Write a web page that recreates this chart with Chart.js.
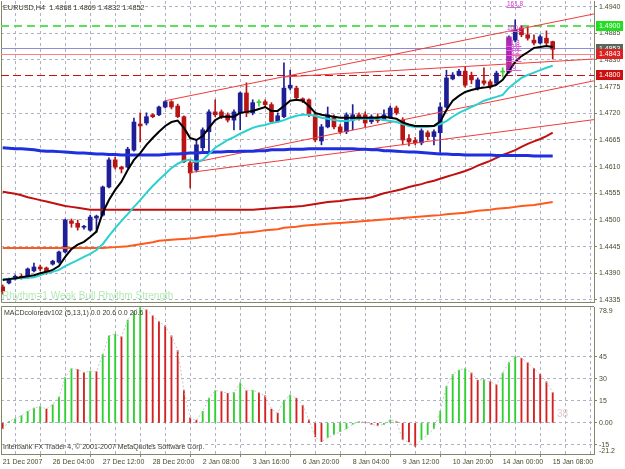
<!DOCTYPE html>
<html><head><meta charset="utf-8"><title>EURUSD H4</title>
<script src="https://cdn.jsdelivr.net/npm/chart.js@4.4.1/dist/chart.umd.min.js"></script>
<style>
html,body{margin:0;padding:0;background:#fff;width:625px;height:469px;overflow:hidden}
#wrap{position:relative;width:625px;height:469px;background:#fff}
canvas{position:absolute;left:0}
#c1{top:0}
#c2{top:304px}
</style></head><body>
<div id="wrap"><canvas id="c1" width="625" height="303"></canvas><canvas id="c2" width="625" height="165"></canvas></div>
<script>
// ---------- data ----------
const dateLabels = ['21 Dec 2007','26 Dec 04:00','27 Dec 12:00','28 Dec 20:00','2 Jan 08:00','3 Jan 16:00','6 Jan 20:00','8 Jan 04:00','9 Jan 12:00','10 Jan 20:00','14 Jan 00:00','15 Jan 08:00'];
const priceTicks = [1.4940,1.4885,1.4830,1.4775,1.4720,1.4665,1.4610,1.4555,1.4500,1.4445,1.4390,1.4335];
const macdTicks = [45,30,15,0,-15];

const open = [
1.4362,1.4370,1.4378,1.4384,1.4382,1.4395,1.4403,1.4401,1.4409,1.4413,
1.4434,1.4498,1.4493,1.4485,1.4479,1.4504,1.4510,1.4568,1.4624,1.4609,
1.4609,1.4644,1.4698,1.4700,1.4717,1.4717,1.4733,1.4744,1.4735,1.4713,
1.4618,1.4603,1.4649,1.4682,1.4723,1.4723,1.4717,1.4706,1.4721,1.4762,
1.4721,1.4742,1.4744,1.4738,1.4703,1.4713,1.4772,1.4772,1.4750,1.4748,
1.4717,1.4663,1.4692,1.4711,1.4692,1.4682,1.4706,1.4717,1.4717,1.4703,
1.4713,1.4706,1.4711,1.4731,1.4706,1.4668,1.4664,1.4659,1.4680,1.4672,
1.4680,1.4733,1.4791,1.4799,1.4807,1.4797,1.4772,1.4787,1.4785,1.4782,
1.4805,1.4805,1.4871,1.4896,1.4882,1.4871,1.4865,1.4875,1.4868];
const high = [
1.4366,1.4380,1.4387,1.4388,1.4401,1.4411,1.4407,1.4403,1.4417,1.4436,
1.4502,1.4502,1.4500,1.4489,1.4510,1.4510,1.4570,1.4628,1.4630,1.4611,
1.4650,1.4710,1.4721,1.4721,1.4719,1.4735,1.4746,1.4746,1.4739,1.4715,
1.4622,1.4665,1.4690,1.4727,1.4748,1.4727,1.4721,1.4727,1.4764,1.4783,
1.4748,1.4748,1.4748,1.4742,1.4721,1.4824,1.4809,1.4776,1.4752,1.4750,
1.4721,1.4697,1.4733,1.4717,1.4697,1.4721,1.4738,1.4721,1.4723,1.4717,
1.4719,1.4727,1.4735,1.4735,1.4711,1.4676,1.4670,1.4688,1.4684,1.4686,
1.4742,1.4809,1.4804,1.4811,1.4816,1.4805,1.4793,1.4814,1.4789,1.4807,
1.4814,1.4880,1.4913,1.4900,1.4898,1.4882,1.4882,1.4890,1.4869];
const low = [
1.4347,1.4368,1.4376,1.4378,1.4380,1.4393,1.4395,1.4388,1.4407,1.4411,
1.4432,1.4485,1.4479,1.4481,1.4477,1.4475,1.4508,1.4566,1.4605,1.4597,
1.4607,1.4642,1.4661,1.4696,1.4711,1.4715,1.4731,1.4729,1.4711,1.4618,
1.4566,1.4599,1.4640,1.4638,1.4713,1.4709,1.4702,1.4686,1.4686,1.4713,
1.4717,1.4735,1.4733,1.4699,1.4701,1.4711,1.4768,1.4748,1.4742,1.4713,
1.4661,1.4655,1.4690,1.4688,1.4678,1.4678,1.4686,1.4706,1.4692,1.4699,
1.4701,1.4705,1.4709,1.4717,1.4655,1.4653,1.4655,1.4655,1.4665,1.4655,
1.4639,1.4731,1.4789,1.4797,1.4774,1.4781,1.4768,1.4778,1.4770,1.4778,
1.4795,1.4803,1.4867,1.4878,1.4871,1.4861,1.4863,1.4861,1.4832];
const close = [
1.4352,1.4378,1.4384,1.4380,1.4399,1.4403,1.4399,1.4391,1.4415,1.4434,
1.4500,1.4493,1.4485,1.4487,1.4506,1.4508,1.4568,1.4624,1.4609,1.4605,
1.4646,1.4702,1.4694,1.4713,1.4713,1.4733,1.4744,1.4733,1.4713,1.4620,
1.4597,1.4655,1.4686,1.4723,1.4717,1.4713,1.4706,1.4723,1.4762,1.4721,
1.4742,1.4742,1.4738,1.4703,1.4715,1.4772,1.4778,1.4752,1.4746,1.4717,
1.4665,1.4692,1.4717,1.4692,1.4682,1.4717,1.4717,1.4713,1.4700,1.4713,
1.4705,1.4717,1.4731,1.4721,1.4665,1.4661,1.4659,1.4684,1.4672,1.4682,
1.4733,1.4793,1.4799,1.4807,1.4778,1.4789,1.4789,1.4782,1.4774,1.4803,
1.4805,1.4875,1.4892,1.4882,1.4875,1.4865,1.4878,1.4865,1.4852];

const maBlack = [
1.4376,1.4378,1.4380,1.4382,1.4384,1.4386,1.4390,1.4393,1.4397,1.4405,
1.4424,1.4440,1.4449,1.4455,1.4465,1.4476,1.4515,1.4541,1.4562,1.4579,
1.4603,1.4624,1.4638,1.4655,1.4669,1.4682,1.4694,1.4702,1.4705,1.4690,
1.4669,1.4665,1.4673,1.4690,1.4706,1.4713,1.4713,1.4713,1.4721,1.4723,
1.4725,1.4729,1.4733,1.4725,1.4725,1.4735,1.4746,1.4748,1.4746,1.4735,
1.4721,1.4717,1.4715,1.4713,1.4711,1.4711,1.4711,1.4711,1.4711,1.4711,
1.4711,1.4713,1.4711,1.4709,1.4701,1.4697,1.4694,1.4694,1.4694,1.4694,
1.4703,1.4727,1.4746,1.4756,1.4764,1.4768,1.4771,1.4773,1.4775,1.4779,
1.4789,1.4807,1.4826,1.4838,1.4846,1.4855,1.4857,1.4859,1.4857];
const maCyan = [
1.4378,1.4378,1.4380,1.4380,1.4381,1.4382,1.4386,1.4391,1.4393,1.4397,
1.4405,1.4411,1.4417,1.4424,1.4430,1.4438,1.4450,1.4467,1.4483,1.4498,
1.4512,1.4527,1.4541,1.4556,1.4570,1.4583,1.4595,1.4607,1.4616,1.4622,
1.4624,1.4620,1.4624,1.4636,1.4649,1.4657,1.4665,1.4671,1.4678,1.4684,
1.4690,1.4694,1.4696,1.4700,1.4702,1.4706,1.4711,1.4715,1.4717,1.4717,
1.4715,1.4711,1.4709,1.4706,1.4704,1.4704,1.4706,1.4709,1.4709,1.4709,
1.4709,1.4706,1.4704,1.4702,1.4698,1.4694,1.4692,1.4692,1.4692,1.4694,
1.4698,1.4704,1.4713,1.4721,1.4727,1.4733,1.4739,1.4746,1.4750,1.4754,
1.4758,1.4773,1.4783,1.4793,1.4799,1.4804,1.4809,1.4814,1.4818];
const maBlue = [
1.4649,1.4648,1.4647,1.4647,1.4646,1.4645,1.4643,1.4642,1.4642,1.4641,
1.4640,1.4639,1.4638,1.4638,1.4637,1.4636,1.4636,1.4635,1.4635,1.4634,
1.4634,1.4634,1.4634,1.4634,1.4634,1.4634,1.4635,1.4636,1.4636,1.4637,
1.4638,1.4638,1.4639,1.4639,1.4640,1.4640,1.4641,1.4641,1.4642,1.4642,
1.4642,1.4643,1.4643,1.4645,1.4645,1.4645,1.4646,1.4646,1.4646,1.4647,
1.4647,1.4647,1.4647,1.4647,1.4647,1.4647,1.4647,1.4646,1.4646,1.4645,
1.4645,1.4643,1.4643,1.4642,1.4641,1.4640,1.4640,1.4639,1.4638,1.4637,
1.4636,1.4636,1.4635,1.4635,1.4634,1.4634,1.4634,1.4634,1.4634,1.4633,
1.4633,1.4633,1.4633,1.4633,1.4633,1.4632,1.4632,1.4632,1.4632];
const maRed = [
1.4558,1.4556,1.4554,1.4551,1.4547,1.4544,1.4541,1.4538,1.4535,1.4532,
1.4529,1.4527,1.4525,1.4523,1.4521,1.4521,1.4521,1.4521,1.4521,1.4521,
1.4521,1.4521,1.4521,1.4521,1.4521,1.4521,1.4521,1.4521,1.4521,1.4521,
1.4521,1.4521,1.4521,1.4521,1.4521,1.4521,1.4521,1.4521,1.4521,1.4521,
1.4521,1.4522,1.4523,1.4524,1.4525,1.4526,1.4527,1.4528,1.4529,1.4531,
1.4533,1.4535,1.4537,1.4538,1.4539,1.4541,1.4543,1.4544,1.4545,1.4547,
1.4551,1.4555,1.4558,1.4561,1.4564,1.4568,1.4571,1.4574,1.4578,1.4581,
1.4585,1.4589,1.4593,1.4597,1.4601,1.4606,1.4612,1.4617,1.4622,1.4628,
1.4634,1.4639,1.4644,1.4651,1.4657,1.4662,1.4667,1.4673,1.4680];
const maOrange = [
1.4442,1.4442,1.4442,1.4442,1.4442,1.4442,1.4442,1.4442,1.4442,1.4442,
1.4442,1.4442,1.4442,1.4442,1.4442,1.4442,1.4442,1.4443,1.4444,1.4445,
1.4446,1.4448,1.4450,1.4452,1.4454,1.4457,1.4458,1.4459,1.4460,1.4461,
1.4462,1.4463,1.4465,1.4466,1.4467,1.4469,1.4470,1.4471,1.4473,1.4474,
1.4475,1.4477,1.4479,1.4480,1.4481,1.4484,1.4485,1.4486,1.4488,1.4489,
1.4490,1.4491,1.4492,1.4493,1.4494,1.4495,1.4496,1.4497,1.4498,1.4499,
1.4500,1.4501,1.4502,1.4503,1.4504,1.4505,1.4506,1.4507,1.4508,1.4509,
1.4510,1.4512,1.4513,1.4514,1.4515,1.4517,1.4519,1.4520,1.4521,1.4523,
1.4524,1.4525,1.4527,1.4529,1.4530,1.4531,1.4533,1.4535,1.4537];

const macd = [
-4,1.1,2.9,4.9,7.8,10,11.2,9.4,12.3,17.5,
30.9,36.9,36.3,34.3,35.2,34.9,46.6,59.3,60.4,58.7,
70,76,78.9,77,73,69,66,59.3,49.3,22.4,
3.4,1.8,7.8,16.8,21.9,21.5,20.1,20.6,27.3,21.9,
22.2,20.6,18.4,9.4,6.7,15.2,19,16.8,12,2,
-9.5,-12.8,-10,-8,-6,-4,-1,1,0.5,-1,
-2,-1,2,1,-11.5,-13,-16,-11.5,-8,-4,
8,25,33,36,37,34,29,29.5,28,26,
34,41,45,44,41,37,33,28,20.6];

// trend lines: start bar, start price, end bar, end price
const trendStartBar = [26, 45, 30, 30];
const trendStartPrice = [1.4746, 1.4795, 1.4598, 1.4617];
const trendEndBar = [94.6, 94.6, 94.6, 94.6];
const trendEndPrice = [1.4925, 1.4832, 1.4707, 1.4787];

// horizontal objects
const hLineValues = [1.4900, 1.4855, 1.4843, 1.4800];
const axisBoxValues = [1.4900, 1.4853, 1.4843, 1.4800];
const axisBoxText = ['1.4900', '1.4853', '1.4843', '1.4800'];

// fibonacci
const fibLevels = [0, 23.6, 38.2, 50, 61.8, 100, 161.8];
const fibLabels = ['0.0', '23.6', '38.2', '50.0', '61.8', '100.0', '161.8'];
const fibLow = 1.4810, fibHigh = 1.4890;
const fibBar = 81;

// ---------- styling ----------
const FONT = '"Liberation Sans", Arial, sans-serif';
const TXT = '#4a4a2c';
const GRID = '#adb3c4';
const AX = '#85856a';
const BULL = '#1e1e96', BEAR = '#b81414', DOJI = '#3ccc3c';
const XMIN = -0.272, XMAX = 94.608;

const xy = arr => arr.map((v, i) => ({x: i, y: v}));
const candleColor = open.map((o, i) => close[i] > o ? BULL : (close[i] < o ? BEAR : DOJI));
const gridBars = [];
for (let b = 0; b <= 92; b += 4) gridBars.push(b);
const noPad = s => { s.paddingTop = 0; s.paddingBottom = 0; s.paddingLeft = 0; s.paddingRight = 0; };

Chart.defaults.font.family = FONT;
Chart.defaults.font.size = 7;
Chart.defaults.color = TXT;

function hLine(ctx, area, y, color, width, dash) {
  ctx.save();
  ctx.beginPath();
  ctx.strokeStyle = color; ctx.lineWidth = width; ctx.setLineDash(dash || []);
  const yy = Math.round(y) + (width % 2 ? 0.5 : 0);
  ctx.moveTo(area.left, yy); ctx.lineTo(area.right, yy); ctx.stroke();
  ctx.restore();
}

const priceOverlay = {
  id: 'priceOverlay',
  beforeDatasetsDraw(chart) {
    const {ctx, chartArea: a, scales: {y}} = chart;
    ctx.save(); ctx.strokeStyle = AX; ctx.lineWidth = 1;
    ctx.beginPath(); ctx.moveTo(a.left + 0.5, a.top); ctx.lineTo(a.left + 0.5, a.bottom + 0.5); ctx.lineTo(a.right, a.bottom + 0.5); ctx.stroke();
    ctx.restore();
    hLine(ctx, a, y.getPixelForValue(hLineValues[1]), '#8c8cd8', 1);
    hLine(ctx, a, y.getPixelForValue(hLineValues[2]), '#ff8080', 1);
    hLine(ctx, a, y.getPixelForValue(hLineValues[3]), '#cc1010', 1, [8, 4]);
    hLine(ctx, a, y.getPixelForValue(hLineValues[0]), '#5ae05a', 2, [8, 5]);
  },
  afterDatasetsDraw(chart) {
    const {ctx, scales: {x, y}} = chart;
    ctx.save();
    ctx.font = '6.5px ' + FONT;
    ctx.fillStyle = '#cc33cc'; ctx.strokeStyle = '#dd66dd'; ctx.lineWidth = 1;
    ctx.textBaseline = 'bottom'; ctx.textAlign = 'left';
    const fx0 = x.getPixelForValue(fibBar - 0.4), fx1 = x.getPixelForValue(fibBar + 2);
    fibLevels.forEach((lv, k) => {
      const py = Math.round(y.getPixelForValue(fibLow + (fibHigh - fibLow) * lv / 100)) + 0.5;
      ctx.beginPath(); ctx.moveTo(fx0, py); ctx.lineTo(fx1, py); ctx.stroke();
      ctx.fillText(fibLabels[k], fx0 + 0.5, py);
    });
    ctx.restore();
    ctx.save();
    ctx.font = '7.3px ' + FONT; ctx.fillStyle = '#3a3a2a'; ctx.textBaseline = 'middle'; ctx.textAlign = 'left';
    ctx.fillText('EURUSD,H4  1.4868 1.4869 1.4832 1.4852', 3, 8);
    ctx.font = '10px ' + FONT; ctx.fillStyle = '#b4ebb4';
    ctx.fillText('Rhythm=1 Weak Bull Rhythm Strength', 2, 296);
    ctx.restore();
  },
  afterDraw(chart) {
    const {ctx, scales: {y}} = chart;
    const fills = ['#22dd22', '#5a665a', '#dd2020', '#cc1010'];
    ctx.save();
    ctx.font = '7px ' + FONT; ctx.textBaseline = 'middle'; ctx.textAlign = 'left';
    axisBoxValues.forEach((v, k) => {
      const py = Math.round(y.getPixelForValue(v));
      ctx.fillStyle = fills[k];
      ctx.fillRect(596, py - 5, 27, 10);
      ctx.fillStyle = '#ffffff';
      ctx.fillText(axisBoxText[k], 599, py + 0.5);
    });
    ctx.restore();
  }
};

const trendSets = trendStartBar.map((b, k) => ({
  type: 'line',
  data: [{x: b, y: trendStartPrice[k]}, {x: trendEndBar[k], y: trendEndPrice[k]}],
  borderColor: '#f03a3a', borderWidth: 1, pointRadius: 0, order: 6
}));

new Chart(document.getElementById('c1'), {
  type: 'bar',
  data: {
    datasets: [
      {type: 'line', data: xy(maBlack), borderColor: '#000000', borderWidth: 2, pointRadius: 0, order: 1},
      {type: 'line', data: xy(maCyan), borderColor: '#2cd0d0', borderWidth: 2, pointRadius: 0, order: 2},
      {type: 'line', data: xy(maBlue), borderColor: '#1f2fe0', borderWidth: 3, pointRadius: 0, order: 3},
      {type: 'line', data: xy(maRed), borderColor: '#c01010', borderWidth: 2, pointRadius: 0, order: 4},
      {type: 'line', data: xy(maOrange), borderColor: '#ff5a1e', borderWidth: 2, pointRadius: 0, order: 5},
      ...trendSets,
      {type: 'bar', data: [{x: fibBar, y: [fibLow - 0.0004, fibHigh - 0.0012]}], barThickness: 5, backgroundColor: 'rgba(175,40,175,0.85)', grouped: false, order: 7},
      {type: 'bar', data: open.map((o, i) => ({x: i, y: [o, close[i]]})), barThickness: 4, minBarLength: 1, backgroundColor: candleColor, grouped: false, order: 8},
      {type: 'bar', data: low.map((l, i) => ({x: i, y: [l, high[i]]})), barThickness: 1, backgroundColor: candleColor, grouped: false, order: 9}
    ]
  },
  options: {
    responsive: false, animation: false, devicePixelRatio: 1,
    layout: {padding: {left: 1, top: 1, right: 0, bottom: 0}},
    plugins: {legend: {display: false}, tooltip: {enabled: false}},
    scales: {
      x: {
        type: 'linear', min: XMIN, max: XMAX, offset: false,
        afterBuildTicks: s => { s.ticks = gridBars.map(v => ({value: v})); },
        afterFit: s => { s.height = 1; noPad(s); },
        ticks: {display: false},
        grid: {color: GRID, drawTicks: false},
        border: {display: false, dash: [3, 3]}
      },
      y: {
        type: 'linear', position: 'right', min: 1.43308, max: 1.49517,
        afterBuildTicks: s => { s.ticks = priceTicks.map(v => ({value: v})); },
        afterFit: s => { s.width = 31; noPad(s); },
        ticks: {callback: v => Number(v).toFixed(4), color: TXT, padding: 2, font: {size: 7}},
        grid: {color: GRID, drawTicks: true, tickLength: 3, tickColor: AX, tickBorderDash: []},
        border: {display: true, color: AX, dash: [3, 3]}
      }
    }
  },
  plugins: [priceOverlay]
});

const macdColor = macd.map((v, i) => (i === 0 ? v < 0 : v < macd[i - 1]) ? '#d42020' : '#30d030');

const macdOverlay = {
  id: 'macdOverlay',
  beforeDatasetsDraw(chart) {
    const {ctx, chartArea: a} = chart;
    ctx.save(); ctx.strokeStyle = AX; ctx.lineWidth = 1;
    ctx.beginPath();
    ctx.moveTo(a.right, a.top - 0.5); ctx.lineTo(a.left + 0.5, a.top - 0.5); ctx.lineTo(a.left + 0.5, a.bottom);
    ctx.stroke(); ctx.restore();
  },
  afterDraw(chart) {
    const {ctx, chartArea: a} = chart;
    ctx.save();
    ctx.font = '7px ' + FONT; ctx.textBaseline = 'middle'; ctx.textAlign = 'left';
    ctx.fillStyle = '#3a3a2a';
    ctx.fillText('MACDcoloredv102 (5,13,1) 0.0 20.6 0.0 20.6', 4, 9);
    ctx.fillText('Interbank FX Trader 4, \u00a9 2001-2007 MetaQuotes Software Corp.', 3, 143);
    ctx.fillStyle = TXT;
    ctx.fillText('78.9', 599, a.top + 4);
    ctx.fillText('-21.2', 599, a.bottom - 3);
    ctx.font = '10px ' + FONT; ctx.fillStyle = '#e2cccc';
    ctx.fillText('38', 557, 110);
    ctx.restore();
  }
};

new Chart(document.getElementById('c2'), {
  type: 'bar',
  data: {
    datasets: [
      {type: 'line', data: xy(macd), borderColor: '#c8c8c8', borderWidth: 1, borderDash: [2, 2], pointRadius: 0, order: 1},
      {type: 'bar', data: xy(macd), barThickness: 1.2, backgroundColor: macdColor, grouped: false, order: 2}
    ]
  },
  options: {
    responsive: false, animation: false, devicePixelRatio: 1,
    layout: {padding: {left: 1, top: 3, right: 0, bottom: 0}},
    plugins: {legend: {display: false}, tooltip: {enabled: false}},
    scales: {
      x: {
        type: 'linear', min: XMIN, max: XMAX, offset: false,
        afterBuildTicks: s => { s.ticks = gridBars.map(v => ({value: v})); },
        afterFit: s => { s.height = 15; noPad(s); },
        ticks: {autoSkip: false, maxRotation: 0, minRotation: 0, align: 'start', padding: 1, color: TXT, font: {size: 7},
                callback: v => (v % 8 === 0 ? dateLabels[v / 8] : '')},
        grid: {color: GRID, drawTicks: true, tickLength: 3, tickBorderDash: [],
               tickColor: c => (c.tick && c.tick.value % 8 === 0) ? AX : 'rgba(0,0,0,0)'},
        border: {display: true, color: AX, dash: [3, 3]}
      },
      y: {
        type: 'linear', position: 'right', min: -21.2, max: 78.9,
        afterBuildTicks: s => { s.ticks = macdTicks.map(v => ({value: v})); },
        afterFit: s => { s.width = 31; noPad(s); },
        ticks: {callback: v => (v === 0 ? '0.00' : String(v)), color: TXT, padding: 2, font: {size: 7}},
        grid: {color: GRID, drawTicks: true, tickLength: 3, tickColor: AX, tickBorderDash: []},
        border: {display: true, color: AX, dash: [3, 3]}
      }
    }
  },
  plugins: [macdOverlay]
});
</script></body></html>
